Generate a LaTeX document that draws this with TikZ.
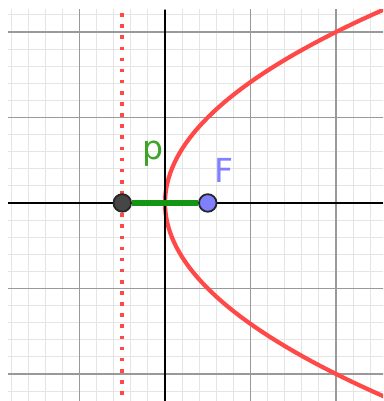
\documentclass[tikz,border=0pt]{standalone}
\usepackage{fontspec}
\setsansfont{DejaVu Sans}
\usepackage{xcolor}
\usetikzlibrary{positioning}
\definecolor{curvered}{RGB}{255,72,72}
\definecolor{segmentgreen}{RGB}{20,150,20}
\definecolor{labelgreen}{RGB}{60,165,40}
\definecolor{focusblue}{RGB}{128,128,255}
\definecolor{pointgray}{RGB}{70,70,70}

\begin{document}
\begin{tikzpicture}[x=1cm, y=1cm,
    minorgrid/.style={line width=0.35pt, color=black!10},
    majorgrid/.style={line width=0.6pt, color=black!40},
    axisline/.style={line width=0.7pt, black},
    pointdot/.style={circle, draw=black!85, line width=0.6pt, minimum size=0.205cm, inner sep=0pt},
    every node/.style={font=\fontsize{11}{13}\sffamily}]
    \useasboundingbox (-1.93,-2.316) rectangle (2.55,2.374);

    % grid
    \begin{scope}
        \clip (-1.836,-2.316) rectangle (2.55,2.257);
        \draw[minorgrid] (-2,-2.4) grid[step=0.2] (2.6,2.4);
        \draw[majorgrid] (-2,-2.4) grid[step=1] (2.6,2.4);
        \draw[curvered, line width=1.4pt, domain=-2.32:2.27, samples=80]
            plot ({\x*\x/2}, \x);
    \end{scope}

    % axes
    \draw[axisline] (-1.836,0) -- (2.55,0);
    \draw[axisline] (0,-2.316) -- (0,2.257);

    % directrix
    \draw[curvered, line width=1.2pt, dash pattern=on 1.2pt off 2.5pt]
        (-0.5,2.22) -- (-0.5,-2.316);

    % points
    \node[pointdot, fill=pointgray] (D) at (-0.5,0) {};
    \node[pointdot, fill=focusblue] (F) at (0.5,0) {};
    \draw[segmentgreen, line width=2.3pt] (D.east) -- (F.west);

    % labels
    \node[labelgreen, anchor=base] (plabel) at (-0.146,0.503) {p};
    \node[focusblue, anchor=base] (Flabel) at (0.69,0.234) {F};
\end{tikzpicture}
\end{document}
